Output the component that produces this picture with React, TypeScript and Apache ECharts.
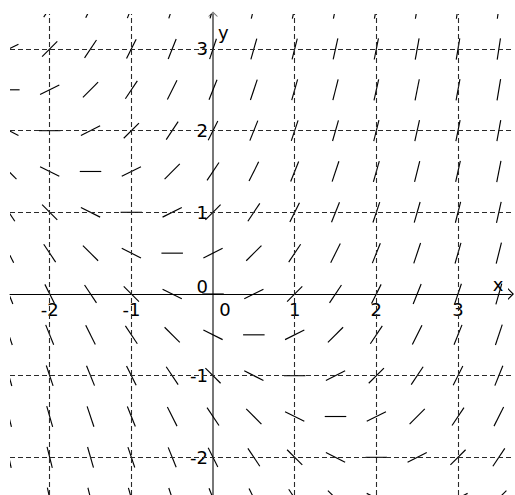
import { useEffect, useRef } from "react";
import * as echarts from "echarts";

// Direction field of y' = x + y, sampled every 0.5
const xs = [-2.5, -2, -1.5, -1, -0.5, 0, 0.5, 1, 1.5, 2, 2.5, 3, 3.5];
const ys = [3.5, 3, 2.5, 2, 1.5, 1, 0.5, 0, -0.5, -1, -1.5, -2, -2.5];
// slopes[i][j] at (xs[j], ys[i])
const slopes = [
  [1, 1.5, 2, 2.5, 3, 3.5, 4, 4.5, 5, 5.5, 6, 6.5, 7],
  [0.5, 1, 1.5, 2, 2.5, 3, 3.5, 4, 4.5, 5, 5.5, 6, 6.5],
  [0, 0.5, 1, 1.5, 2, 2.5, 3, 3.5, 4, 4.5, 5, 5.5, 6],
  [-0.5, 0, 0.5, 1, 1.5, 2, 2.5, 3, 3.5, 4, 4.5, 5, 5.5],
  [-1, -0.5, 0, 0.5, 1, 1.5, 2, 2.5, 3, 3.5, 4, 4.5, 5],
  [-1.5, -1, -0.5, 0, 0.5, 1, 1.5, 2, 2.5, 3, 3.5, 4, 4.5],
  [-2, -1.5, -1, -0.5, 0, 0.5, 1, 1.5, 2, 2.5, 3, 3.5, 4],
  [-2.5, -2, -1.5, -1, -0.5, 0, 0.5, 1, 1.5, 2, 2.5, 3, 3.5],
  [-3, -2.5, -2, -1.5, -1, -0.5, 0, 0.5, 1, 1.5, 2, 2.5, 3],
  [-3.5, -3, -2.5, -2, -1.5, -1, -0.5, 0, 0.5, 1, 1.5, 2, 2.5],
  [-4, -3.5, -3, -2.5, -2, -1.5, -1, -0.5, 0, 0.5, 1, 1.5, 2],
  [-4.5, -4, -3.5, -3, -2.5, -2, -1.5, -1, -0.5, 0, 0.5, 1, 1.5],
  [-5, -4.5, -4, -3.5, -3, -2.5, -2, -1.5, -1, -0.5, 0, 0.5, 1],
];
const xTickLabels = [-2, -1, 0, 1, 2, 3];
const yTickLabels = [-2, -1, 0, 1, 2, 3];
const gridXValues = [-2, -1, 1, 2, 3];
const gridYValues = [-2, -1, 1, 2, 3];

const FONT = "DejaVu Sans";
const HALF = 10.75;
const ARROW = "path://M0,6 L6,0 L12,6 L10.4,6 L6,1.8 L1.6,6 Z";

export default function App() {
  const ref = useRef<HTMLDivElement>(null);
  useEffect(() => {
    const chart = echarts.init(ref.current!, null, { renderer: "svg" });
    const data: number[][] = [];
    ys.forEach((y, i) => xs.forEach((x, j) => data.push([x, y, slopes[i][j]])));
    // [x, y, kind] kind 0 = x-axis label, 1 = y-axis label
    const labelData: number[][] = [
      ...xTickLabels.map((v) => [v, 0, 0]),
      ...yTickLabels.map((v) => [0, v, 1]),
    ];
    const txt = { fontSize: 18, fontFamily: FONT, color: "#000" };
    chart.setOption({
      animation: false,
      grid: { left: 10, right: 4, top: 14, bottom: 0, containLabel: false, outerBoundsMode: "none" },
      xAxis: {
        type: "value",
        min: -2.486,
        max: 3.649,
        axisLine: {
          onZero: true,
          symbol: ["none", ARROW],
          symbolSize: [12, 6],
          lineStyle: { color: "#000", width: 1 },
        },
        axisTick: { show: false },
        splitLine: { show: false },
        axisLabel: { show: false },
        name: "x",
        nameLocation: "end",
        nameGap: -13,
        nameTextStyle: { ...txt, align: "center", verticalAlign: "bottom", padding: [0, 0, 0, 0] },
      },
      yAxis: {
        type: "value",
        min: -2.461,
        max: 3.428,
        axisLine: {
          onZero: true,
          symbol: ["none", ARROW],
          symbolSize: [10, 5],
          lineStyle: { color: "#777", width: 2 },
        },
        axisTick: { show: false },
        splitLine: { show: false },
        axisLabel: { show: false },
        name: "y",
        nameLocation: "end",
        nameGap: -9,
        nameTextStyle: { ...txt, align: "left", verticalAlign: "top", padding: [0, 0, 0, 5] },
      },
      series: [
        {
          type: "custom",
          clip: true,
          data,
          encode: { x: 0, y: 1 },
          silent: true,
          renderItem: (_params: any, api: any) => {
            const c = api.coord([api.value(0), api.value(1)]);
            const s = api.value(2) as number;
            const u = api.size([1, 1]);
            let dx = u[0];
            let dy = -s * u[1];
            const n = Math.hypot(dx, dy);
            dx = (dx / n) * HALF;
            dy = (dy / n) * HALF;
            return {
              type: "line",
              shape: { x1: c[0] - dx, y1: c[1] - dy, x2: c[0] + dx, y2: c[1] + dy },
              style: { stroke: "#000", lineWidth: 1.15 },
            };
          },
          markLine: {
            silent: true,
            symbol: ["none", "none"],
            label: { show: false },
            lineStyle: { type: [5, 3], color: "#2a2a2a", width: 1.1 },
            emphasis: { disabled: true },
            data: [
              ...gridXValues.map((v) => ({ xAxis: v })),
              ...gridYValues.map((v) => ({ yAxis: v })),
            ],
          },
        },
        {
          type: "custom",
          clip: false,
          silent: true,
          data: labelData,
          encode: { x: 0, y: 1 },
          renderItem: (_params: any, api: any) => {
            const x = api.value(0) as number;
            const y = api.value(1) as number;
            const kind = api.value(2) as number;
            const c = api.coord([x, y]);
            if (kind === 0) {
              return {
                type: "text",
                x: c[0] + (x === 0 ? 12 : 0),
                y: c[1] + 16,
                style: {
                  text: String(x),
                  fontSize: 18,
                  fontFamily: FONT,
                  fill: "#000",
                  align: "center",
                  verticalAlign: "middle",
                },
              };
            }
            return {
              type: "text",
              x: c[0] - 5,
              y: c[1] - (y === 0 ? 7 : 0),
              style: {
                text: String(y),
                fontSize: 18,
                fontFamily: FONT,
                fill: "#000",
                align: "right",
                verticalAlign: "middle",
              },
            };
          },
        },
      ],
    });
    return () => chart.dispose();
  }, []);
  return (
    <div
      ref={ref}
      style={{ position: "fixed", left: 0, top: 0, width: 515, height: 495, background: "#fff" }}
    />
  );
}
